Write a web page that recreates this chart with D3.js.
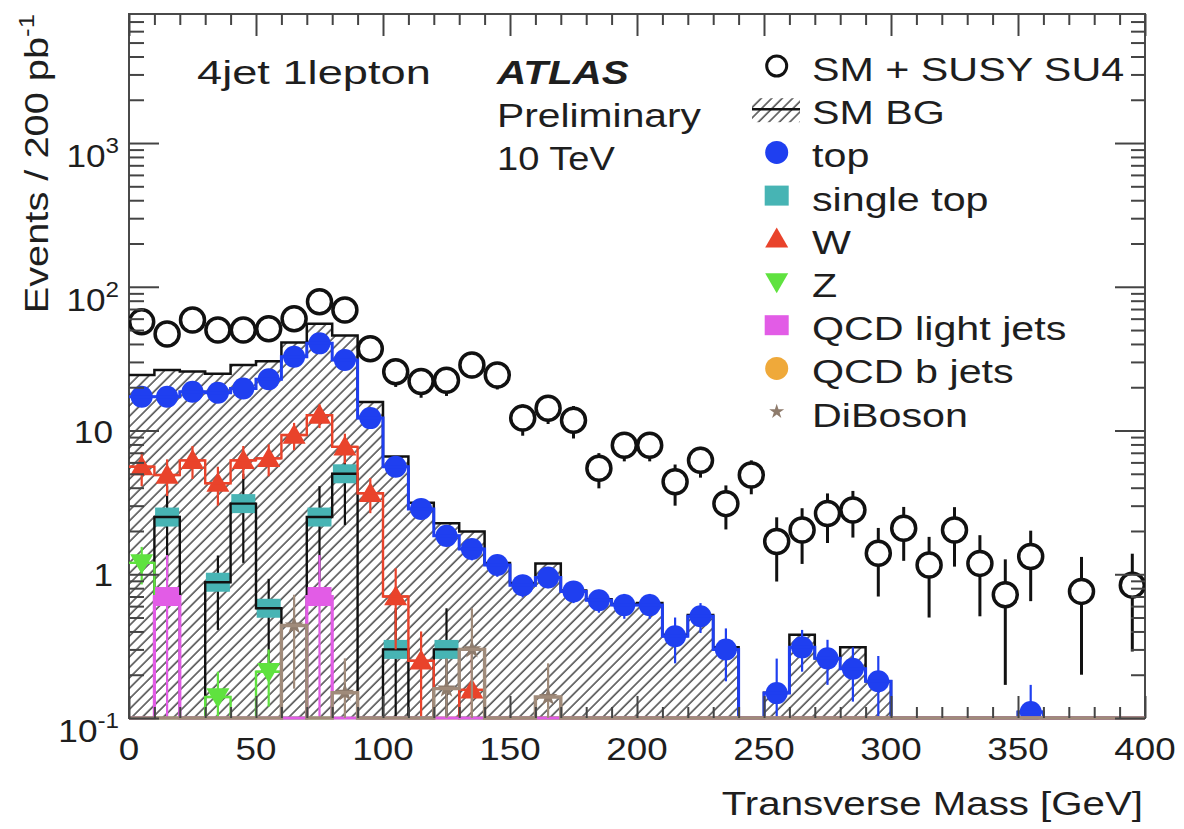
<!DOCTYPE html>
<html>
<head>
<meta charset="utf-8">
<script src="https://cdn.jsdelivr.net/npm/d3@7"></script>
<style>
  body { margin: 0; background: #fff; }
  svg { display: block; }
  text { font-family: "Liberation Sans", Arial, Helvetica, sans-serif; fill: #1e1e1e; }
</style>
</head>
<body>
<svg id="chart" width="1184" height="829"></svg>
<script>
// ---- histogram data: transverse mass, 10 GeV bins, events / 200 pb^-1 ----
const binCenters = [5,15,25,35,45,55,65,75,85,95,105,115,125,135,145,155,165,175,185,195,
                    205,215,225,235,245,255,265,275,285,295,305,315,325,335,345,355,365,375,385,395];
const binWidth = 10;

const smSusy    = [57,47,58.7,50,50,51,60,78.7,69,37, 25.6,21.9,22.4,28.6,24.3,12.2,14.3,11.8,5.46,7.9,
                   7.9,4.4,6.2,3.1,4.9,1.69,2.03,2.65,2.8,1.4, 2.09,1.16,2.03,1.19,0.72,1.33,0,0.76,0,0.84];
const smSusyErr = [5,4.5,5,4.5,4.5,4.5,5,6,5.5,4.5, 5.5,5,5,5.5,5,3,3.2,3,1.5,1.8,
                   1.8,1.4,1.5,1.05,1.3,0.8,0.85,1.0,1.0,0.7, 0.85,0.66,0.9,0.68,0.55,0.68,0,0.56,0,0.55];

const smBackground = [24.3,26.4,25.7,24.8,28.6,30.3,40.9,55.2,45.8,15.8, 6.6,3.15,2.26,1.98,1.2,0.87,1.19,0.77,0.67,0.62,
                      0.63,0.38,0.52,0.31,0,0.15,0.38,0.26,0.31,0.18, 0,0,0,0,0,0.11,0,0,0,0];

const topQuark    = [17.2,17.2,18.6,18.3,19.6,22.7,32.6,40.4,30.9,12.2, 5.6,2.85,1.85,1.5,1.16,0.84,0.95,0.76,0.66,0.61,
                     0.61,0.37,0.51,0.30,0,0.149,0.31,0.26,0.22,0.18, 0,0,0,0,0,0.11,0,0,0,0];
const topQuarkErr = [1.2,1.2,1.3,1.3,1.3,1.4,1.7,1.9,1.7,1.0, 0.6,0.4,0.3,0.25,0.2,0.15,0.15,0.13,0.12,0.12,
                     0.12,0.13,0.12,0.12,0,0.11,0.1,0.09,0.09,0.09, 0,0,0,0,0,0.06,0,0,0,0];

const singleTop    = [0,2.5,0,0.88,3.1,0.58,0,2.5,5.0,0, 0.3,0,0.3,0,0,0,0,0,0,0,
                      0,0,0,0,0,0,0,0,0,0, 0,0,0,0,0,0,0,0,0,0];
const singleTopErr = [0,1.6,0,0.47,1.9,0.35,0,1.6,2.8,0, 0.28,0,0.28,0,0,0,0,0,0,0,
                      0,0,0,0,0,0,0,0,0,0, 0,0,0,0,0,0,0,0,0,0];

const wJets    = [5.6,4.9,6.2,4.3,6.2,6.4,9.3,12.8,7.7,3.66, 0.7,0.25,0,0.157,0,0,0,0,0,0,
                  0,0,0,0,0,0,0,0,0,0, 0,0,0,0,0,0,0,0,0,0];
const wJetsErr = [1.5,1.4,1.6,1.3,1.6,1.6,2.0,2.4,1.8,1.0, 0.4,0.15,0,0.13,0,0,0,0,0,0,
                  0,0,0,0,0,0,0,0,0,0, 0,0,0,0,0,0,0,0,0,0];

const zJets    = [1.2,0,0,0.14,0,0.21,0,0,0,0, 0,0,0,0,0,0,0,0,0,0,
                  0,0,0,0,0,0,0,0,0,0, 0,0,0,0,0,0,0,0,0,0];
const zJetsErr = [0.35,0,0,0.07,0,0.09,0,0,0,0, 0,0,0,0,0,0,0,0,0,0,
                  0,0,0,0,0,0,0,0,0,0, 0,0,0,0,0,0,0,0,0,0];

const qcdLight    = [0,0.7,0,0,0,0,0,0.7,0,0, 0,0,0,0,0,0,0,0,0,0,
                     0,0,0,0,0,0,0,0,0,0, 0,0,0,0,0,0,0,0,0,0];
const qcdLightErr = [0,0.66,0,0,0,0,0,0.66,0,0, 0,0,0,0,0,0,0,0,0,0,
                     0,0,0,0,0,0,0,0,0,0, 0,0,0,0,0,0,0,0,0,0];

const qcdB    = [0,0,0,0,0,0,0,0,0,0, 0,0,0,0,0,0,0,0,0,0,
                 0,0,0,0,0,0,0,0,0,0, 0,0,0,0,0,0,0,0,0,0];

const diBoson    = [0,0,0,0,0,0,0.44,0,0.15,0, 0,0,0.16,0.3,0,0,0.14,0,0,0,
                    0,0,0,0,0,0,0,0,0,0, 0,0,0,0,0,0,0,0,0,0];
const diBosonErr = [0,0,0,0,0,0,0.28,0,0.11,0, 0,0,0.1,0.28,0,0,0.1,0,0,0,
                    0,0,0,0,0,0,0,0,0,0, 0,0,0,0,0,0,0,0,0,0];

const xTickLabels = ["0","50","100","150","200","250","300","350","400"];
const xTickValues = [0,50,100,150,200,250,300,350,400];
const yDecades = [0.1,1,10,100,1000];
const yDecadeLabels = [["10","-1"],["1",null],["10",null],["10","2"],["10","3"]];

const legendEntries = [
  {label:"SM + SUSY SU4", kind:"open"},
  {label:"SM BG", kind:"hatch"},
  {label:"top", kind:"circle", color:"#1f3ff0"},
  {label:"single top", kind:"square", color:"#47b4b4"},
  {label:"W", kind:"tri", color:"#e9432b"},
  {label:"Z", kind:"itri", color:"#5fe23f"},
  {label:"QCD light jets", kind:"square", color:"#e25ce6"},
  {label:"QCD b jets", kind:"circle", color:"#efa93a"},
  {label:"DiBoson", kind:"star", color:"#8e7b6c"}
];

// ---- layout ----
const F = {l:129, r:1145, t:14, b:718};
const svg = d3.select("#chart");
const x = d3.scaleLinear().domain([0,400]).range([F.l,F.r]);
const y = d3.scaleLog().domain([0.1,7900]).range([F.b,F.t]);

const defs = svg.append("defs");
const hatch = defs.append("pattern").attr("id","hatch").attr("patternUnits","userSpaceOnUse")
  .attr("width",7.4).attr("height",7.4).attr("patternTransform","rotate(45)");
hatch.append("line").attr("x1",1).attr("y1",0).attr("x2",1).attr("y2",7.4)
  .attr("stroke","#2a2a2a").attr("stroke-width",1.3);
// clip slightly below the frame so the zero-content baseline keeps its full stroke
defs.append("clipPath").attr("id","plotClip").append("rect")
  .attr("x",F.l).attr("y",F.t).attr("width",F.r-F.l).attr("height",F.b-F.t+2);

const yOf = v => v > 0 ? Math.min(F.b, y(Math.max(v,0.1))) : F.b;
const lo = i => x(binCenters[i]-binWidth/2);
const hi = i => x(binCenters[i]+binWidth/2);

// step outline; the filled version starts from the baseline so it closes cleanly
function stepPath(vals, close){
  const p = d3.path();
  p.moveTo(lo(0), close ? F.b : yOf(vals[0]));
  vals.forEach((v,i)=>{ const yy = yOf(v); p.lineTo(lo(i),yy); p.lineTo(hi(i),yy); });
  p.lineTo(hi(vals.length-1), F.b);
  if (close) p.closePath();
  return p.toString();
}

// frame
svg.append("rect").attr("x",F.l).attr("y",F.t).attr("width",F.r-F.l).attr("height",F.b-F.t)
  .attr("fill","none").attr("stroke","#4a4a4a").attr("stroke-width",2);

const plot = svg.append("g").attr("clip-path","url(#plotClip)");

// SM background: hatched area + outline
plot.append("path").attr("d",stepPath(smBackground,true)).attr("fill","url(#hatch)").attr("stroke","none");
plot.append("path").attr("d",stepPath(smBackground,false)).attr("fill","none")
  .attr("stroke","#111").attr("stroke-width",2.5);

function errorBars(g, vals, errs, color, w, gap){
  vals.forEach((v,i)=>{
    if (!(v>0)) return;
    const e = errs[i] || 0, cx = x(binCenters[i]), cy = y(v);
    const yTop = y(v+e), yBot = (v-e) > 0 ? Math.min(F.b, y(Math.max(v-e,0.1))) : F.b;
    const segs = gap ? [[cx,yTop,cx,cy-gap],[cx,cy+gap,cx,yBot],[lo(i),cy,cx-gap,cy],[cx+gap,cy,hi(i),cy]]
                     : [[cx,yTop,cx,yBot],[lo(i),cy,hi(i),cy]];
    segs.forEach(s=>{
      if ((s[1]===s[3] && s[2]-s[0]<0.5) || (s[0]===s[2] && s[3]<=s[1])) return;
      g.append("line").attr("x1",s[0]).attr("y1",s[1]).attr("x2",s[2]).attr("y2",s[3])
        .attr("stroke",color).attr("stroke-width",w);
    });
  });
}

function markers(g, vals, kind, color){
  vals.forEach((v,i)=>{
    if (!(v>0)) return;
    drawMarker(g, x(binCenters[i]), y(v), kind, color, false);
  });
}

function drawMarker(g, cx, cy, kind, color, legend){
  if (kind==="circle") g.append("circle").attr("cx",cx).attr("cy",cy).attr("r",legend?11.5:11).attr("fill",color);
  else if (kind==="square") g.append("rect").attr("x",cx-12).attr("y",cy-(legend?10:9.5)).attr("width",24).attr("height",legend?20:19).attr("fill",color);
  else if (kind==="tri") g.append("path").attr("transform",`translate(${cx},${cy+2})`).attr("d",d3.symbol(d3.symbolTriangle,230)()).attr("fill",color);
  else if (kind==="itri") g.append("path").attr("transform",`translate(${cx},${cy-2}) rotate(180)`).attr("d",d3.symbol(d3.symbolTriangle,230)()).attr("fill",color);
  else if (kind==="star") g.append("path").attr("transform",`translate(${cx},${cy})`).attr("d",d3.symbol(d3.symbolStar,legend?70:110)()).attr("fill",color);
  else if (kind==="open") g.append("circle").attr("cx",cx).attr("cy",cy).attr("r",legend?10:12).attr("fill","none").attr("stroke","#111").attr("stroke-width",legend?3:3.5);
}

// components (drawn in stacking order)
const components = [
  {vals:topQuark, errs:topQuarkErr, kind:"circle", color:"#1f3ff0", line:"#1f3ff0", lw:3},
  {vals:singleTop, errs:singleTopErr, kind:"square", color:"#47b4b4", line:"#111", lw:2.4, err:"#111"},
  {vals:wJets, errs:wJetsErr, kind:"tri", color:"#e9432b", line:"#e9432b", lw:2.4},
  {vals:zJets, errs:zJetsErr, kind:"itri", color:"#5fe23f", line:"#5fe23f", lw:2.4},
  {vals:qcdLight, errs:qcdLightErr, kind:"square", color:"#e25ce6", line:"#e25ce6", lw:3.2},
  {vals:diBoson, errs:diBosonErr, kind:"star", color:"#8e7b6c", line:"#a08b7a", lw:3.4}
];
components.forEach(c=>{
  const g = plot.append("g");
  errorBars(g, c.vals, c.errs, c.err || c.line, 2.2, 0);
  markers(g, c.vals, c.kind, c.color);
  g.append("path").attr("d",stepPath(c.vals,false)).attr("fill","none")
    .attr("stroke",c.line).attr("stroke-width",c.lw);
});

// SM + SUSY points
const gs = plot.append("g");
errorBars(gs, smSusy, smSusyErr, "#111", 3, 12);
markers(gs, smSusy, "open", "#111");

// ---- axes (inward ticks on all four sides) ----
const xMinor = d3.range(0,401,10).filter(v=>v%50!==0);
const yMinor = [];
yDecades.forEach(d=>{ for (let k=2;k<=9;k++){ if (d*k<7900) yMinor.push(d*k); } });

function tickAxis(axis, tr){
  const g = svg.append("g").attr("transform",tr).call(axis);
  g.select(".domain").remove();
  g.selectAll("text").remove();
  g.selectAll("line").attr("stroke","#444").attr("stroke-width",2);
}
tickAxis(d3.axisBottom(x).tickValues(xTickValues).tickSize(-22), `translate(0,${F.b})`);
tickAxis(d3.axisBottom(x).tickValues(xMinor).tickSize(-11), `translate(0,${F.b})`);
tickAxis(d3.axisTop(x).tickValues(xTickValues).tickSize(-22), `translate(0,${F.t})`);
tickAxis(d3.axisTop(x).tickValues(xMinor).tickSize(-11), `translate(0,${F.t})`);
tickAxis(d3.axisLeft(y).tickValues(yDecades).tickSize(-30), `translate(${F.l},0)`);
tickAxis(d3.axisLeft(y).tickValues(yMinor).tickSize(-15), `translate(${F.l},0)`);
tickAxis(d3.axisRight(y).tickValues(yDecades).tickSize(-30), `translate(${F.r},0)`);
tickAxis(d3.axisRight(y).tickValues(yMinor).tickSize(-14), `translate(${F.r},0)`);

// ---- text ----
function txt(x0, y0, parts, o={}){
  const t = svg.append("text")
    .attr("transform",`translate(${x0},${y0})${o.rot?` rotate(${o.rot})`:""} scale(${o.sx||1.2},1)`)
    .attr("text-anchor",o.anchor||"start").attr("font-size",o.size||33);
  if (o.weight) t.attr("font-weight",o.weight);
  if (o.style) t.attr("font-style",o.style);
  parts.forEach(p=>{
    if (typeof p==="string") t.append("tspan").text(p);
    else t.append("tspan").attr("dy",p.dy).attr("font-size",p.size).text(p.sup);
  });
  return t;
}

xTickValues.forEach((v,i)=> txt(x(v), 760, [xTickLabels[i]], {anchor:"middle", size:32, sx:1.15}));
yDecades.forEach((v,i)=>{
  const [base, sup] = yDecadeLabels[i];
  if (sup) txt(119, y(v)+24, [base, {sup, dy:-14, size:22}], {anchor:"end", size:32, sx:1.1});
  else txt(113, y(v)+12, [base], {anchor:"end", size:32, sx:1.1});
});

txt(1143, 815, ["Transverse Mass [GeV]"], {anchor:"end", size:33, sx:1.22});
txt(48, 14, ["Events / 200 pb", {sup:"-1", dy:-14, size:22}], {anchor:"end", size:34, sx:1.17, rot:-90});

txt(197, 84, ["4jet 1lepton"], {size:34, sx:1.33});
txt(497, 84, ["ATLAS"], {size:34, sx:1.19, weight:"bold", style:"italic"});
txt(497, 127, ["Preliminary"], {size:34, sx:1.2});
txt(497, 170, ["10 TeV"], {size:34, sx:1.12});

// ---- legend ----
const leg = svg.append("g");
legendEntries.forEach((e,i)=>{
  const my = 66 + 43.2*i, mx = 776.7;
  if (e.kind==="hatch"){
    leg.append("rect").attr("x",752).attr("y",my-11).attr("width",48).attr("height",24).attr("fill","url(#hatch)");
    leg.append("line").attr("x1",752).attr("x2",800).attr("y1",my).attr("y2",my).attr("stroke","#111").attr("stroke-width",2.5);
  } else {
    drawMarker(leg, mx, my, e.kind, e.color, true);
  }
  txt(812, my+15, [e.label], {size:33, sx:1.25});
});
</script>
</body>
</html>
